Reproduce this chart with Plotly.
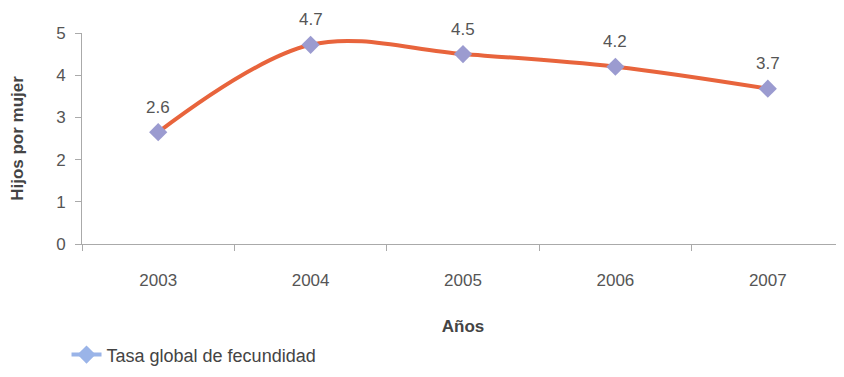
import plotly.graph_objects as go

years = ["2003", "2004", "2005", "2006", "2007"]
tgf = [2.65, 4.72, 4.5, 4.2, 3.68]
labels = ["2.6", "4.7", "4.5", "4.2", "3.7"]

fig = go.Figure()
# main line (spline, orange) with lavender diamonds
fig.add_trace(go.Scatter(x=years, y=tgf, mode="lines+markers",
                         line=dict(color="#e8643c", width=4, shape="spline", smoothing=1.0),
                         marker=dict(symbol="diamond", size=14, color="#9b9bd0"),
                         showlegend=False, cliponaxis=False))
# legend entry only
fig.add_trace(go.Scatter(x=[None], y=[None], mode="lines+markers", name="Tasa global de fecundidad",
                         line=dict(color="#9ab4e8", width=4),
                         marker=dict(symbol="diamond", size=14, color="#9ab4e8")))

# value labels above the points (x given as category index)
for i, (v, lab) in enumerate(zip(tgf, labels)):
    fig.add_annotation(x=i, y=v, text=lab, showarrow=False, yshift=25, borderpad=0,
                       font=dict(size=17, color="#555555"))

# page has 8px body margin, so figure is 8px smaller
fig.update_layout(
    width=836, height=369,
    margin=dict(l=74, r=0, t=25, b=133),
    paper_bgcolor="white", plot_bgcolor="white",
    font=dict(family="Liberation Sans, Arial, sans-serif", size=17, color="#555555"),
    legend=dict(orientation="h", xref="container", yref="container", x=0.07, y=0.06,
                xanchor="left", yanchor="middle", font=dict(size=18, color="#444444")),
)
fig.update_xaxes(range=[-0.5, 4.5], showline=True, linecolor="#aaaaaa", ticks="outside",
                 tickson="boundaries", tickcolor="#aaaaaa", ticklen=6, showgrid=False,
                 ticklabelstandoff=21, tickfont=dict(size=17), automargin=False,
                 title=dict(text="<b>Años</b>", font=dict(size=17, color="#444444"), standoff=30))
fig.update_yaxes(range=[0, 5], dtick=1, showline=True, linecolor="#aaaaaa", ticks="outside",
                 tickcolor="#aaaaaa", ticklen=6, showgrid=False, zeroline=False, automargin=False,
                 tickfont=dict(size=17), ticklabelstandoff=6,
                 title=dict(text="<b>Hijos por mujer</b>", font=dict(size=17, color="#444444"), standoff=34))

fig.write_html("out.html")
